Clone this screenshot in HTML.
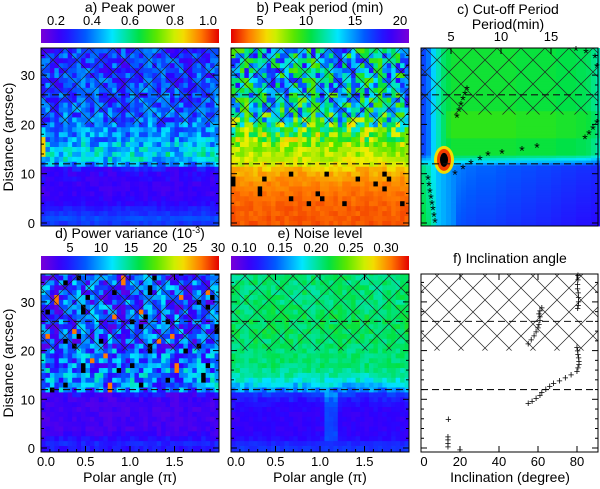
<!DOCTYPE html>
<html><head><meta charset="utf-8">
<style>
html,body{margin:0;padding:0;background:#fff;}
svg{display:block;font-family:"Liberation Sans",sans-serif;}
</style></head>
<body>
<svg id="fig" width="600" height="489" viewBox="0 0 600 489" xmlns="http://www.w3.org/2000/svg">
<defs>
<pattern id="hatch" patternUnits="userSpaceOnUse" width="24" height="24" x="41" y="48">
<path d="M0,0 L24,24 M24,0 L0,24" stroke="#222" stroke-width="0.7" fill="none"/>
</pattern>
</defs>
</svg>
<script>
// ---------- data ----------
var distRows = [0,1,2,3,4,5,6,7,8,9,10,11,12,13,14,15,16,17,18,19,20,21,22,23,24,25,26,27,28,29,30,31,32,33,34,35,36];
var texture = [0.12,0.87,0.45,0.33,0.91,0.05,0.62,0.78,0.24,0.56,0.39,0.97,0.18,0.71,0.49,0.02,0.83,0.27,0.66,0.41,0.94,0.15,0.58,0.36,0.75,0.09,0.52,0.88,0.21,0.64,0.31,0.79,0.07,0.47,0.99,0.26,0.69,0.43,0.14,0.85,0.55,0.3,0.73,0.11,0.6,0.92,0.38,0.81,0.2,0.67,0.04,0.5,0.77];
var powerMean = [0.36,0.38,0.35,0.33,0.3,0.29,0.28,0.28,0.28,0.29,0.29,0.31,0.44,0.5,0.52,0.5,0.48,0.45,0.44,0.43,0.42,0.4,0.4,0.39,0.39,0.38,0.38,0.38,0.37,0.37,0.37,0.36,0.36,0.36,0.36,0.36,0.36];
var powerAmp = [0.02,0.02,0.02,0.02,0.02,0.02,0.02,0.02,0.02,0.03,0.03,0.05,0.1,0.1,0.1,0.1,0.1,0.1,0.1,0.1,0.1,0.1,0.1,0.1,0.1,0.1,0.1,0.1,0.1,0.1,0.1,0.1,0.1,0.1,0.1,0.1,0.1];
var periodMean = [3.2,3.2,3.3,3.3,3.4,3.5,3.6,3.8,4,4.3,4.6,5,6,6.5,7,7.2,7.5,8,8.5,9,10,11,11.5,12,12,12.5,12.5,12.5,13,13,13,13,13,13,13,13,13];
var periodAmp = [0.3,0.3,0.3,0.3,0.3,0.3,0.3,0.3,0.4,0.5,0.6,0.8,1,1,1.2,1.5,2,3,3.5,4,5,5,5,5,5,5,5,5,5,5,5,5,5,5,5,5,5];
var varMean = [4.5,5,4,3,2.5,2.5,2.5,2.5,2.5,2.5,2.7,3.5,8,9,9,9,9,8,8,8,8,7,7,7,7,7,7,7,7,7,7,7,7,7,7,7,7];
var varAmp = [1,1,1,1,0.8,0.8,0.8,0.8,0.8,0.8,1,2,6,6,6,6,6,6,6,6,6,6,6,6,6,6,6,6,6,6,6,6,6,6,6,6,6];
var noiseMean = [0.13,0.125,0.115,0.112,0.11,0.11,0.11,0.11,0.112,0.115,0.12,0.13,0.155,0.175,0.19,0.2,0.205,0.21,0.21,0.21,0.21,0.212,0.212,0.212,0.215,0.215,0.215,0.215,0.212,0.212,0.21,0.21,0.21,0.21,0.21,0.21,0.21];
var noiseAmp = [0.005,0.005,0.005,0.005,0.005,0.005,0.005,0.005,0.005,0.005,0.008,0.01,0.02,0.02,0.015,0.012,0.01,0.01,0.01,0.01,0.01,0.01,0.012,0.012,0.012,0.012,0.012,0.012,0.012,0.012,0.012,0.012,0.012,0.012,0.012,0.012,0.012];
// panel c: cut-off field
var cPeriods = [2,2.5,3,3.5,4,4.5,5,5.5,6,6.5,7,7.5,8,8.5,9,9.5,10,10.5,11,11.5,12,12.5,13,13.5,14,14.5,15,15.5,16,16.5,17,17.5,18,18.5,19,19.5];
var cUpper = [0.22,0.28,0.38,0.46,0.52,0.55,0.57,0.57,0.57,0.57,0.57,0.57,0.57,0.57,0.57,0.57,0.57,0.57,0.57,0.56,0.56,0.56,0.56,0.56,0.56,0.56,0.56,0.55,0.55,0.55,0.55,0.54,0.54,0.53,0.5,0.46];
var cLower = [0.5,0.46,0.4,0.36,0.34,0.32,0.3,0.29,0.28,0.27,0.27,0.26,0.26,0.26,0.26,0.25,0.25,0.24,0.24,0.24,0.23,0.23,0.23,0.22,0.22,0.22,0.21,0.21,0.2,0.2,0.2,0.19,0.19,0.19,0.18,0.18];
var cStarP = [2.7,2.8,2.9,3,3.1,3.2,3.3,3.4, 5.4,6.2,7,7.9,8.7,10.1,12.1,13.6, 5.6,5.8,6,6.2,6.4,6.6, 18.4,18.8,19.2,19.6, 17.5,18.5,19.4,19.6];
var cStarD = [8.8,7.5,6.2,5,3.8,2.6,1.3,0.1, 9.8,11,12,12.8,13.7,14.1,14.7,15.3, 21.4,22.6,23.8,25,26,27, 17,18,19,20.2, 35,34.5,33.5,31.5];
// panel f: inclination
var fIncl = [80.5,80.5,80.3,80.3,80.6,80.8,80.8,80.6,80.4, 55,56.5,58,59,60,60.5,61,61,60.5,61,62, 80,80.3,80.5,80.8,81,81,80.5,80,77,74,71,68,66,64,62,61,59,57,55, 14,13.8,13.8,13.8,13.8,20];
var fDist = [35.5,34.6,33.7,32.8,31.9,31,30.1,29.4,28.7, 21.5,22.3,23.1,23.9,24.7,25.5,26.3,27,27.6,28.2,28.8, 20.7,20,19.3,18.6,17.9,17.2,16.5,15.8,15.1,14.5,13.9,13.3,12.7,12.1,11.5,10.9,10.3,9.7,9.2, 6,2.4,1.7,1,0.3,-0.3];

// ---------- helpers ----------
var NS="http://www.w3.org/2000/svg";
var svg=document.getElementById('fig');
function mk(tag,attrs,parent){var e=document.createElementNS(NS,tag);for(var k in attrs)e.setAttribute(k,attrs[k]);(parent||svg).appendChild(e);return e;}
var stops=[[0,[120,0,215]],[0.12,[45,0,255]],[0.25,[0,90,255]],[0.4,[0,230,255]],[0.55,[0,225,70]],[0.63,[70,230,0]],[0.78,[240,240,0]],[0.9,[255,120,0]],[1,[228,0,0]]];
function cmap(t){if(t<0)t=0;if(t>1)t=1;for(var i=1;i<stops.length;i++){if(t<=stops[i][0]){var a=stops[i-1],b=stops[i],f=(t-a[0])/(b[0]-a[0]);return 'rgb('+[0,1,2].map(function(k){return Math.round(a[1][k]+(b[1][k]-a[1][k])*f);}).join(',')+')';}}return 'rgb(228,0,0)';}
function txt(x,y,s,size,anchor,parent){var t=mk('text',{x:x,y:y,'font-size':size||13,'text-anchor':anchor||'middle',fill:'#000'},parent);t.textContent=s;return t;}
var NCOL=40;
function tex(i,j){return texture[(i*17+Math.floor(j/2)*5+(j%2)*(i%3))%53];}

function yS(top){return top?function(d){return 223-d*4.93;}:function(d){return 448-d*4.87;};}

function panelFrame(x0,y0,w,h,name,yticks,ylabels,hatchBottom,ysc){
  var g=mk('g',{});
  
  
  var hy=ysc(hatchBottom);
  var hp=mk('rect',{x:x0,y:y0,width:w,height:hy-y0,fill:'url(#hatch)'},g);
  
  
  [26,12].forEach(function(d){
    var l=mk('line',{x1:x0,x2:x0+w,y1:ysc(d),y2:ysc(d),stroke:'#111','stroke-width':1.1,'stroke-dasharray':'7,4'},g);
    
    
  });
  var fr=mk('rect',{x:x0,y:y0,width:w,height:h,fill:'none',stroke:'#000','stroke-width':1},g);
  
  
  for(var d=0;d<=35;d+=2){var yy=ysc(d);var L=(d%10==0)?6:3;
    mk('line',{x1:x0,x2:x0+L,y1:yy,y2:yy,stroke:'#000'},g);
    mk('line',{x1:x0+w-L,x2:x0+w,y1:yy,y2:yy,stroke:'#000'},g);}
  if(ylabels){[0,10,20,30].forEach(function(d){var t=txt(x0-6,ysc(d)+5,String(d),13,'end');});}
  return g;
}
function polarTicks(x0,y0,w,h){
  var xs=function(p){return x0+p/2*w;};
  [0,0.5,1,1.5].forEach(function(p){mk('line',{x1:xs(p),x2:xs(p),y1:y0+h,y2:y0+h-6,stroke:'#000'});mk('line',{x1:xs(p),x2:xs(p),y1:y0,y2:y0+6,stroke:'#000'});
    var t=txt(xs(p)+(p==0?5:0),466,p.toFixed(1),13);});
  for(var p=0.1;p<2;p+=0.1){mk('line',{x1:xs(p),x2:xs(p),y1:y0+h,y2:y0+h-3,stroke:'#000'});}
  var a=txt(x0+w/2,482,'Polar angle (π)',14);
}
function heat(x0,y0,w,h,ysc,colorFn,name){
  var g=mk('g',{});
  
  
  var cw=w/NCOL;
  for(var j=0;j<distRows.length;j++){
    var d=distRows[j];var yt=Math.max(y0,ysc(d+0.5)),yb=Math.min(y0+h,ysc(d-0.5));
    if(d==0)yb=y0+h;
    for(var i=0;i<NCOL;i++){
      var c=mk('rect',{x:(x0+i*cw).toFixed(2),y:yt.toFixed(2),width:(cw+0.4).toFixed(2),height:(yb-yt+0.4).toFixed(2),fill:colorFn(i,j)},g);
      
      
    }
  }
}
function colorbar(x0,y0,w,h,reverse,name){
  var id='g'+name;var gr=mk('linearGradient',{id:id,x1:0,x2:1,y1:0,y2:0},svg.querySelector('defs'));
  for(var k=0;k<=20;k++){mk('stop',{offset:k/20,'stop-color':cmap(reverse?1-k/20:k/20)},gr);}
  var r=mk('rect',{x:x0,y:y0,width:w,height:h,fill:'url(#'+id+')'});
  
  
}

// ---------- panel a ----------
var ysT=yS(true), ysB=yS(false);
heat(41,48,178,178,ysT,function(i,j){var v=powerMean[j]+(tex(i,j)-0.5)*2*powerAmp[j];if(j>=14&&j<=17&&i==0)v=0.85;return cmap((v-0.2)/0.8);},'peak-power');
panelFrame(41,48,178,178,'peak-power',1,true,20,ysT);
colorbar(41,29,178,14,false,'peak-power-colorbar');
txt(130,12,'a) Peak power',14);
[['0.2',56],['0.4',92],['0.6',130],['0.8',175],['1.0',208]].forEach(function(p){var t=txt(p[1],25,p[0],13);});

// ---------- panel b ----------
heat(231,48,178,178,ysT,function(i,j){var tv=tex(i,j);if(j>=4&&j<=10&&tv>0.93)return '#000';var v=periodMean[j]+(tv-0.5)*2*periodAmp[j];return cmap(1-(v-1.9)/18.1);},'peak-period');
panelFrame(231,48,178,178,'peak-period',1,false,20,ysT);
colorbar(231,29,178,14,true,'peak-period-colorbar');
txt(320,12,'b) Peak period (min)',14);
[['5',260],['10',306],['15',355],['20',400]].forEach(function(p){var t=txt(p[1],25,p[0],13);});

// ---------- panel c ----------
(function(){
  var x0=421,w=177,pS=function(p){return x0+(p-2)*10;};
  var g=mk('g',{});
  for(var j=0;j<74;j++){var d=j*0.5;var yt=Math.max(48,ysT(d+0.25)),yb=Math.min(226,ysT(d-0.25));if(j==0)yb=226;
    for(var i=0;i<cPeriods.length;i++){var v;
      if(d>=14){v=cUpper[i]+(d>17&&d<23&&i>4?0.03:0);}
      else if(d<=11.5){v=cLower[i]-(11.5-d)*0.004*(i>6?1:0)+(i<3?(11.5-d)*0.005:0);}
      else{var f=(d-11.5)/2.5;v=cLower[i]*(1-f)+cUpper[i]*f;}
      var c=mk('rect',{x:pS(cPeriods[i]).toFixed(2),y:yt.toFixed(2),width:5.4,height:(yb-yt+0.4).toFixed(2),fill:cmap(v)},g);
      }}
  mk('ellipse',{cx:pS(4.3),cy:ysT(12.8),rx:10,ry:14,fill:cmap(0.8)},g);
  mk('ellipse',{cx:pS(4.3),cy:ysT(12.8),rx:7,ry:11,fill:cmap(0.95)},g);
  var b3=mk('ellipse',{cx:pS(4.3),cy:ysT(12.8),rx:4,ry:7,fill:'#000'},g);
  
  for(var k=0;k<cStarP.length;k++){var s=mk('text',{x:pS(cStarP[k]),y:ysT(cStarD[k])+5,'font-size':14,'text-anchor':'middle',fill:'#000'});s.textContent='*';
    }
  panelFrame(x0,48,w,178,'cutoff-period',1,false,22,ysT);
  [5,10,15].forEach(function(p){mk('line',{x1:pS(p),x2:pS(p),y1:48,y2:54,stroke:'#000'});var t=txt(pS(p),41,String(p),13);});
  txt(508,14,'c) Cut-off Period',14);
  txt(508,29,'Period(min)',14);
})();

// ---------- panel d ----------
heat(41,274,178,178,ysB,function(i,j){var tv=tex(i,j);var v=varMean[j]+(tv-0.5)*2*varAmp[j];if(j>=12&&tv>0.965)return '#000';if(j>=12&&tv>0.935)v=27;return cmap(v/30);},'power-variance');
panelFrame(41,274,178,178,'power-variance',1,true,20,ysB);
colorbar(41,256,178,14,false,'power-variance-colorbar');
polarTicks(41,274,178,178);
(function(){var t=mk('text',{x:130,y:238,'font-size':14,'text-anchor':'middle'});t.innerHTML='d) Power variance (10<tspan dy="-5" font-size="9">-3</tspan><tspan dy="5">)</tspan>';})();
[['5',70],['10',101],['15',131],['20',160],['25',190],['30',218]].forEach(function(p){var t=txt(p[1],252,p[0],13);});

// ---------- panel e ----------
heat(231,274,178,178,ysB,function(i,j){var v=noiseMean[j]+(tex(i,j)-0.5)*2*noiseAmp[j];if(j>=2&&j<12&&i>=21&&i<=23)v+=0.025;return cmap((v-0.082)/0.249);},'noise-level');
panelFrame(231,274,178,178,'noise-level',1,false,20,ysB);
colorbar(231,256,178,14,false,'noise-colorbar');
polarTicks(231,274,178,178);
txt(320,238,'e) Noise level',14);
[['0.10',244],['0.15',280],['0.20',316],['0.25',351],['0.30',386]].forEach(function(p){var t=txt(p[1],252,p[0],13);});

// ---------- panel f ----------
(function(){
  var x0=421,w=177,iS=function(v){return x0+v*1.95;};
  panelFrame(x0,274,w,178,'inclination',1,false,20,ysB);
  for(var k=0;k<fIncl.length;k++){var s=mk('text',{x:iS(fIncl[k]),y:ysB(fDist[k])+4,'font-size':11,'text-anchor':'middle',fill:'#000'});s.textContent='+';
    }
  [0,20,40,60,80].forEach(function(v){mk('line',{x1:iS(v),x2:iS(v),y1:452,y2:446,stroke:'#000'});mk('line',{x1:iS(v),x2:iS(v),y1:274,y2:280,stroke:'#000'});var t=txt(iS(v)+(v==0?3:0),466,String(v),13);});
  var a=txt(510,482,'Inclination (degree)',14);
  txt(510,263,'f) Inclination angle',14);
})();

// y axis titles
[137,363].forEach(function(cy){var t=mk('text',{x:0,y:0,'font-size':14,'text-anchor':'middle',transform:'translate(13,'+cy+') rotate(-90)'});t.textContent='Distance (arcsec)';
  });
</script>
</body></html>
